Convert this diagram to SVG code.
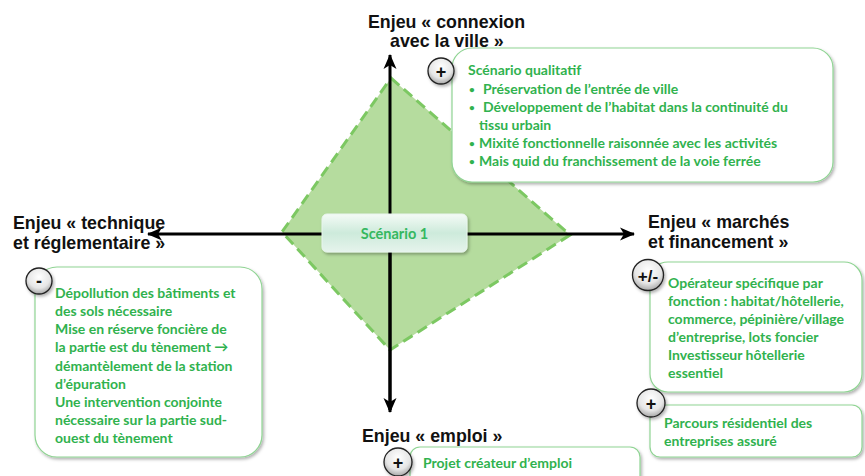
<svg xmlns="http://www.w3.org/2000/svg" width="865" height="476" viewBox="0 0 865 476">
<style>
.lbl{font-family:"Liberation Sans",Arial,sans-serif;font-weight:bold;font-size:17.8px;fill:#111}
.gt{font-family:Lato,"Open Sans",sans-serif;font-weight:bold;font-size:14px;fill:#30b24e}
.bu{font-family:Lato,"Open Sans",sans-serif;font-weight:bold;font-size:10px;fill:#30b24e}
.box{fill:#fff;stroke:#8fd493;stroke-width:1.2}
.ax{stroke:#000;stroke-width:3;fill:none}
.sym{font-family:"Liberation Sans",Arial,sans-serif;font-weight:bold;fill:#111;text-anchor:middle}
</style>
<defs>
<marker id="ah" markerUnits="userSpaceOnUse" markerWidth="16" markerHeight="14" refX="14" refY="7" orient="auto">
<path d="M0,0.5 L15,7 L0,13.5 L4,7 Z" fill="#000"/>
</marker>
<radialGradient id="cg" cx="0.5" cy="0.35" r="0.7">
<stop offset="0" stop-color="#ffffff"/>
<stop offset="0.6" stop-color="#e6e6e6"/>
<stop offset="1" stop-color="#9a9a9a"/>
</radialGradient>
<linearGradient id="sg" x1="0" y1="0" x2="0" y2="1">
<stop offset="0" stop-color="#f4fbf6"/>
<stop offset="0.5" stop-color="#cdeadb"/>
<stop offset="1" stop-color="#e6f4ec"/>
</linearGradient>
<filter id="sh" x="-10%" y="-10%" width="125%" height="130%">
<feDropShadow dx="1.5" dy="2" stdDeviation="1.5" flood-color="#000" flood-opacity="0.3"/>
</filter>
</defs>

<g id="diamond">
<polygon points="391,78 570,235 390,350 282,232" fill="#b5dc9e" stroke="#7cc862" stroke-width="3" stroke-dasharray="11,6"/>
</g>

<g id="connectors">
<line class="ax" x1="390" y1="410" x2="390" y2="55" marker-end="url(#ah)"/>
<line class="ax" x1="390" y1="230" x2="390" y2="412" marker-end="url(#ah)"/>
<line class="ax" x1="390" y1="234" x2="148" y2="234" marker-end="url(#ah)"/>
<line class="ax" x1="390" y1="234" x2="634" y2="234" marker-end="url(#ah)"/>
</g>

<g id="scenario1">
<rect x="322" y="214" width="145" height="38" rx="5" fill="url(#sg)" stroke="#e8f5ee" stroke-width="1" filter="url(#sh)"/>
<text x="394.5" y="238.5" text-anchor="middle" style="font-family:Lato,'Open Sans',sans-serif;font-weight:bold;font-size:14.5px;fill:#35b860">Scénario 1</text>
</g>

<g id="label-connexion">
<text class="lbl" x="368" y="28">Enjeu « connexion</text>
<text class="lbl" x="390" y="47">avec la ville »</text>
</g>
<g id="label-technique">
<text class="lbl" x="13" y="229">Enjeu « technique</text>
<text class="lbl" x="13" y="249">et réglementaire »</text>
</g>
<g id="label-marches">
<text class="lbl" x="648" y="228">Enjeu « marchés</text>
<text class="lbl" x="648" y="248">et financement »</text>
</g>
<g id="label-emploi">
<text class="lbl" x="362" y="442">Enjeu « emploi »</text>
</g>

<g id="box-connexion">
<rect class="box" x="452" y="48" width="381" height="134" rx="20" filter="url(#sh)"/>
<circle cx="441" cy="71" r="13" fill="url(#cg)" stroke="#222" stroke-width="1.3" filter="url(#sh)"/>
<text class="sym" x="441" y="77.5" font-size="18">+</text>
<text class="gt" x="468" y="75">Scénario qualitatif</text>
<text class="bu" x="469" y="93">•</text><text class="gt" x="483" y="94">Préservation de l’entrée de ville</text>
<text class="bu" x="469" y="111">•</text><text class="gt" x="483" y="112">Développement de l’habitat dans la continuité du</text>
<text class="gt" x="479" y="130">tissu urbain</text>
<text class="bu" x="469" y="147">•</text><text class="gt" x="479" y="148">Mixité fonctionnelle raisonnée avec les activités</text>
<text class="bu" x="469" y="165">•</text><text class="gt" x="479" y="166">Mais quid du franchissement de la voie ferrée</text>
</g>

<g id="box-technique">
<rect class="box" x="35" y="267" width="227" height="190" rx="22" filter="url(#sh)"/>
<circle cx="39" cy="281" r="13" fill="url(#cg)" stroke="#222" stroke-width="1.3" filter="url(#sh)"/>
<text class="sym" x="39" y="287" font-size="18">-</text>
<text class="gt" x="55" y="298">Dépollution des bâtiments et</text>
<text class="gt" x="55" y="316">des sols nécessaire</text>
<text class="gt" x="55" y="334">Mise en réserve foncière de</text>
<text class="gt" x="55" y="352">la partie est du tènement →</text>
<text class="gt" x="55" y="371">démantèlement de la station</text>
<text class="gt" x="55" y="389">d’épuration</text>
<text class="gt" x="55" y="407">Une intervention conjointe</text>
<text class="gt" x="55" y="425">nécessaire sur la partie sud-</text>
<text class="gt" x="55" y="443">ouest du tènement</text>
</g>

<g id="box-marches">
<rect class="box" x="650" y="262" width="212" height="130" rx="18" filter="url(#sh)"/>
<circle cx="648" cy="275" r="15.5" fill="url(#cg)" stroke="#222" stroke-width="1.3" filter="url(#sh)"/>
<text class="sym" x="648" y="281.5" font-size="17">+/-</text>
<text class="gt" x="668" y="288">Opérateur spécifique par</text>
<text class="gt" x="668" y="306">fonction : habitat/hôtellerie,</text>
<text class="gt" x="668" y="324">commerce, pépinière/village</text>
<text class="gt" x="668" y="342">d’entreprise, lots foncier</text>
<text class="gt" x="668" y="360">Investisseur hôtellerie</text>
<text class="gt" x="668" y="378">essentiel</text>
</g>

<g id="box-parcours">
<rect class="box" x="650" y="405" width="212" height="52" rx="10" filter="url(#sh)"/>
<circle cx="651" cy="403" r="14" fill="url(#cg)" stroke="#222" stroke-width="1.3" filter="url(#sh)"/>
<text class="sym" x="651" y="409.5" font-size="18">+</text>
<text class="gt" x="664" y="428">Parcours résidentiel des</text>
<text class="gt" x="664" y="446">entreprises assuré</text>
</g>

<g id="box-emploi">
<rect class="box" x="410" y="447" width="230" height="45" rx="10" filter="url(#sh)"/>
<circle cx="398" cy="462" r="14" fill="url(#cg)" stroke="#222" stroke-width="1.3" filter="url(#sh)"/>
<text class="sym" x="398" y="468.5" font-size="18">+</text>
<text class="gt" x="423" y="468">Projet créateur d’emploi</text>
</g>
</svg>
